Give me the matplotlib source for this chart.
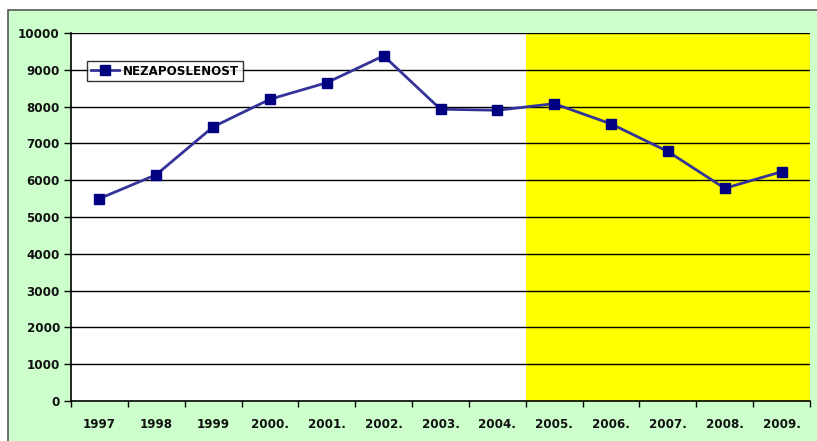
import matplotlib
matplotlib.use("Agg")
import matplotlib.pyplot as plt
from matplotlib.patches import Rectangle

years = ["1997", "1998", "1999", "2000.", "2001.", "2002.", "2003.", "2004.",
         "2005.", "2006.", "2007.", "2008.", "2009."]
unemployment = [5500, 6150, 7450, 8200, 8650, 9380, 7930, 7900,
                8080, 7530, 6780, 5780, 6230]
yticks = [0, 1000, 2000, 3000, 4000, 5000, 6000, 7000, 8000, 9000, 10000]
series_name = "NEZAPOSLENOST"

plt.rcParams['font.family'] = ['DejaVu Sans']
FS = 8.6

W, H = 817, 441
fig = plt.figure(figsize=(W/100, H/100), dpi=100)
fig.patch.set_facecolor('white')
fig.patches.append(Rectangle((8/W, -0.01), 1.0, (H-10)/H + 0.01, transform=fig.transFigure,
                             facecolor='#CCFFCC', edgecolor='#555555', linewidth=1.2, zorder=-5))

ax = fig.add_axes([71/W, (H-401)/H, (810-71)/W, (401-33)/H])
ax.set_zorder(2)
ax.set_facecolor('white')
x = list(range(len(years)))
ax.set_xlim(-0.5, len(years)-0.5)
ax.set_ylim(0, 10000)
ax.axvspan(7.5, len(years)-0.5, color='#FFFF00', zorder=0.5, linewidth=0)

for yv in yticks[1:]:
    ax.axhline(yv, color='black', linewidth=1.0, zorder=1)

ax.plot(x, unemployment, color='#333399', linewidth=2.0, marker='s', markersize=6.5,
        markerfacecolor='#000080', markeredgecolor='#000080', zorder=3, label=series_name)

ax.set_yticks(yticks)
ax.set_yticklabels([str(v) for v in yticks], fontsize=FS, fontweight='bold', color='#111111')
ax.set_xticks(x)
ax.set_xticklabels(years, fontsize=FS, fontweight='bold', color='#111111')
ax.tick_params(axis='x', length=0, pad=12)
ax.set_xticks([i + 0.5 for i in range(-1, len(years))], minor=True)
ax.tick_params(axis='x', which='minor', length=4, width=1, direction='out', color='black')
ax.tick_params(axis='y', length=5, width=1, direction='out', pad=3)

for s in ['top', 'right']:
    ax.spines[s].set_visible(False)
ax.spines['left'].set_color('black')
ax.spines['bottom'].set_color('black')
ax.spines['left'].set_linewidth(1.2)
ax.spines['bottom'].set_linewidth(1.2)

leg = ax.legend(loc='upper left', bbox_to_anchor=(16/739, (401-61)/368), frameon=True,
                fancybox=False, prop={'weight': 'bold', 'size': FS},
                handlelength=2.4, borderpad=0.3, handletextpad=0.3, borderaxespad=0)
leg.get_frame().set_edgecolor('black')
leg.get_frame().set_linewidth(1.0)
leg.set_zorder(5)

fig.savefig('out.png', dpi=100)
